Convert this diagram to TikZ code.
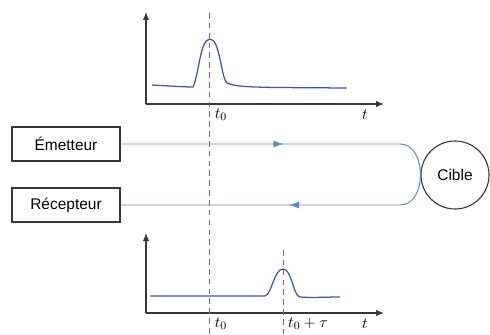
\documentclass[tikz,border=0pt]{standalone}
\usepackage{amsmath,amssymb}
\usepackage{fontspec}
\setmainfont{Liberation Sans}
\usepackage{tikz}
\usetikzlibrary{arrows.meta,positioning,calc,decorations.markings}
\definecolor{SignalBlue}{RGB}{95,135,205}
\definecolor{CurveBlue}{RGB}{65,85,175}
\definecolor{DarkGray}{RGB}{55,55,55}
\definecolor{DashGray}{RGB}{110,110,110}

\begin{document}
\begin{tikzpicture}[x=0.025cm, y=-0.025cm, font=\fontsize{11}{13}\selectfont,
    boxnode/.style={draw=DarkGray, line width=0.8pt, minimum width=2.7cm, minimum height=0.85cm},
    axis/.style={-{Latex[length=2mm,width=1.6mm]}, DarkGray, line width=0.8pt},
    sig/.style={SignalBlue, line width=0.7pt},
    pulse/.style={CurveBlue, line width=0.9pt},
    guide/.style={DashGray, dashed, dash pattern=on 4pt off 3pt, line width=0.6pt}]
        \useasboundingbox (0,0) rectangle (490,334);
        % blocs
        \node[boxnode] (emetteur) at (66,144) {Émetteur};
        \node[boxnode] (recepteur) at (66,205) {Récepteur};
        \node[draw=DarkGray, line width=0.8pt, circle, minimum size=1.7cm, inner sep=0pt] (cible) at (455,175) {Cible};
        \coordinate (allerfin) at (400,144);
        \coordinate (retourdebut) at (400,205);
        % trajet du signal
        \draw[sig, postaction={decorate}, decoration={markings,
              mark=at position 4.08cm with {\arrow{Latex[length=2.6mm,width=1.7mm]}},
              mark=at position -4.2cm with {\arrow{Latex[length=2.6mm,width=1.7mm]}}}]
            (emetteur.east) -- (allerfin) to[out=0,in=90] (cible.west)
            to[out=-90,in=0] (retourdebut) -- (recepteur.east);
        % emission
        \coordinate (o1) at (146,104);
        \draw[axis] (o1) -- (146,12);
        \draw[axis] (o1) -- (384,104);
        \node (t1) at (365,115) {$t$};
        \node (t0a) at (221,115) {$t_0$};
        \draw[pulse] (152,85) .. controls (170,86) and (185,87) .. (193,87)
            .. controls (199,75) and (200,39) .. (210,39)
            .. controls (220,39) and (221,78) .. (227,83)
            .. controls (235,87) and (255,87) .. (275,87.5) -- (347,88);
        % reception
        \coordinate (o2) at (146,313);
        \draw[axis] (o2) -- (146,233);
        \draw[axis] (o2) -- (384,313);
        \node (t2) at (365,324) {$t$};
        \node (t0b) at (221,324) {$t_0$};
        \node (t0tau) at (308,324) {$t_0+\tau$};
        \draw[pulse] (150,296) -- (265,296)
            .. controls (272,294) and (274,269) .. (283,269)
            .. controls (292,269) and (293,296) .. (300,297)
            .. controls (310,298) and (325,297) .. (340,297);
        % reperes
        \draw[guide] (209,13) -- (209,334);
        \draw[guide] (283,250) -- (283,334);
\end{tikzpicture}
\end{document}
